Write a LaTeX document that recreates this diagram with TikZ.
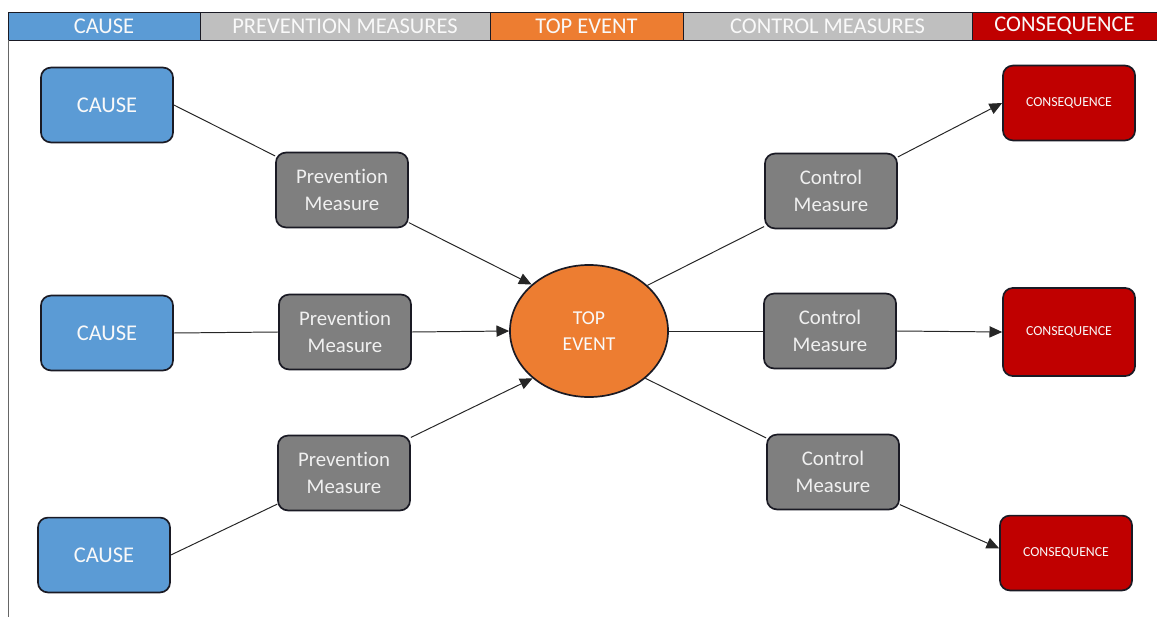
\documentclass[tikz,border=0pt]{standalone}
\usepackage{fontspec}
\setmainfont{Carlito}[Ligatures=NoCommon]
\usetikzlibrary{shapes.geometric,arrows.meta}
\definecolor{causeblue}{HTML}{5B9BD5}
\definecolor{toporange}{HTML}{ED7D31}
\definecolor{conred}{HTML}{C00000}
\definecolor{hdgray}{HTML}{BFBFBF}
\definecolor{boxgray}{HTML}{7F7F7F}
\definecolor{edgedark}{HTML}{1A1A24}

\begin{document}
\begin{tikzpicture}[x=0.025cm,y=-0.025cm,
  hdbar/.style={draw=edgedark,line width=0.6pt},
  hdtext/.style={color=white!95!gray,midway,font=\fontsize{16}{18}\selectfont},
  box/.style={draw=edgedark,line width=1.2pt,rounded corners=7pt,
    minimum width=3.3cm,minimum height=1.87cm,align=center,
    text=white!95!gray,font=\fontsize{16}{19}\selectfont},
  cause/.style={box,fill=causeblue},
  meas/.style={box,fill=boxgray,text=white!88!gray,font=\fontsize{14.8}{19}\selectfont},
  conseq/.style={box,fill=conred,font=\fontsize{9.8}{11}\selectfont},
  topev/.style={ellipse,draw=edgedark,line width=1.2pt,fill=toporange,
    minimum width=3.95cm,minimum height=3.3cm,align=center,
    text=white!95!gray,font=\fontsize{14}{18.5}\selectfont},
  link/.style={draw=black!85,line width=0.7pt},
  arr/.style={link,-{Triangle[length=9pt,width=8pt]}}]

  \useasboundingbox (0,0) rectangle (1157,617);

  \draw[hdbar,fill=causeblue] (8,12) rectangle (200,40) node[hdtext] (hcause) {CAUSE};
  \draw[hdbar,fill=hdgray] (200,12) rectangle (490,40) node[hdtext] (hprev) {PREVENTION MEASURES};
  \draw[hdbar,fill=toporange] (490,12) rectangle (683,40) node[hdtext] (htop) {TOP EVENT};
  \draw[hdbar,fill=hdgray] (683,12) rectangle (972,40) node[hdtext] (hctrl) {CONTROL MEASURES};
  \draw[hdbar,fill=conred] (972,12) rectangle (1157,40) node[hdtext] (hcons) {CONSEQUENCE};
  \draw[draw=black!60,line width=0.6pt] (8,40) -- (8,617);

  \node[cause] (c1) at (107,105) {CAUSE};
  \node[cause] (c2) at (107,333) {CAUSE};
  \node[cause] (c3) at (104,555) {CAUSE};

  \node[meas] (p1) at (342,190) {Prevention\\Measure};
  \node[meas] (p2) at (345,332) {Prevention\\Measure};
  \node[meas] (p3) at (344,473) {Prevention\\Measure};

  \node[topev] (top) at (589,331) {TOP\\EVENT};

  \node[meas] (k1) at (831,191) {Control\\Measure};
  \node[meas] (k2) at (830,331) {Control\\Measure};
  \node[meas] (k3) at (833,472) {Control\\Measure};

  \node[conseq] (q1) at (1069,103) {CONSEQUENCE};
  \node[conseq,minimum height=2.2cm] (q2) at (1069,332) {CONSEQUENCE};
  \node[conseq] (q3) at (1066,553) {CONSEQUENCE};

  \draw[link] (c1.east) -- (p1.153);
  \draw[link] (c2.east) -- (p2.west);
  \draw[link] (c3.east) -- (p3.205);

  \draw[arr] (p1.-26) -- (top.141);
  \draw[arr] (p2.east) -- (top.west);
  \draw[arr] (p3.28) -- (top.220);

  \draw[link] (top.38) -- (k1.208);
  \draw[link] (top.east) -- (k2.west);
  \draw[link] (top.-40) -- (k3.153);

  \draw[arr] (k1.27) -- (q1.west);
  \draw[arr] (k2.east) -- (q2.west);
  \draw[arr] (k3.-26) -- (q3.176);

\end{tikzpicture}
\end{document}
